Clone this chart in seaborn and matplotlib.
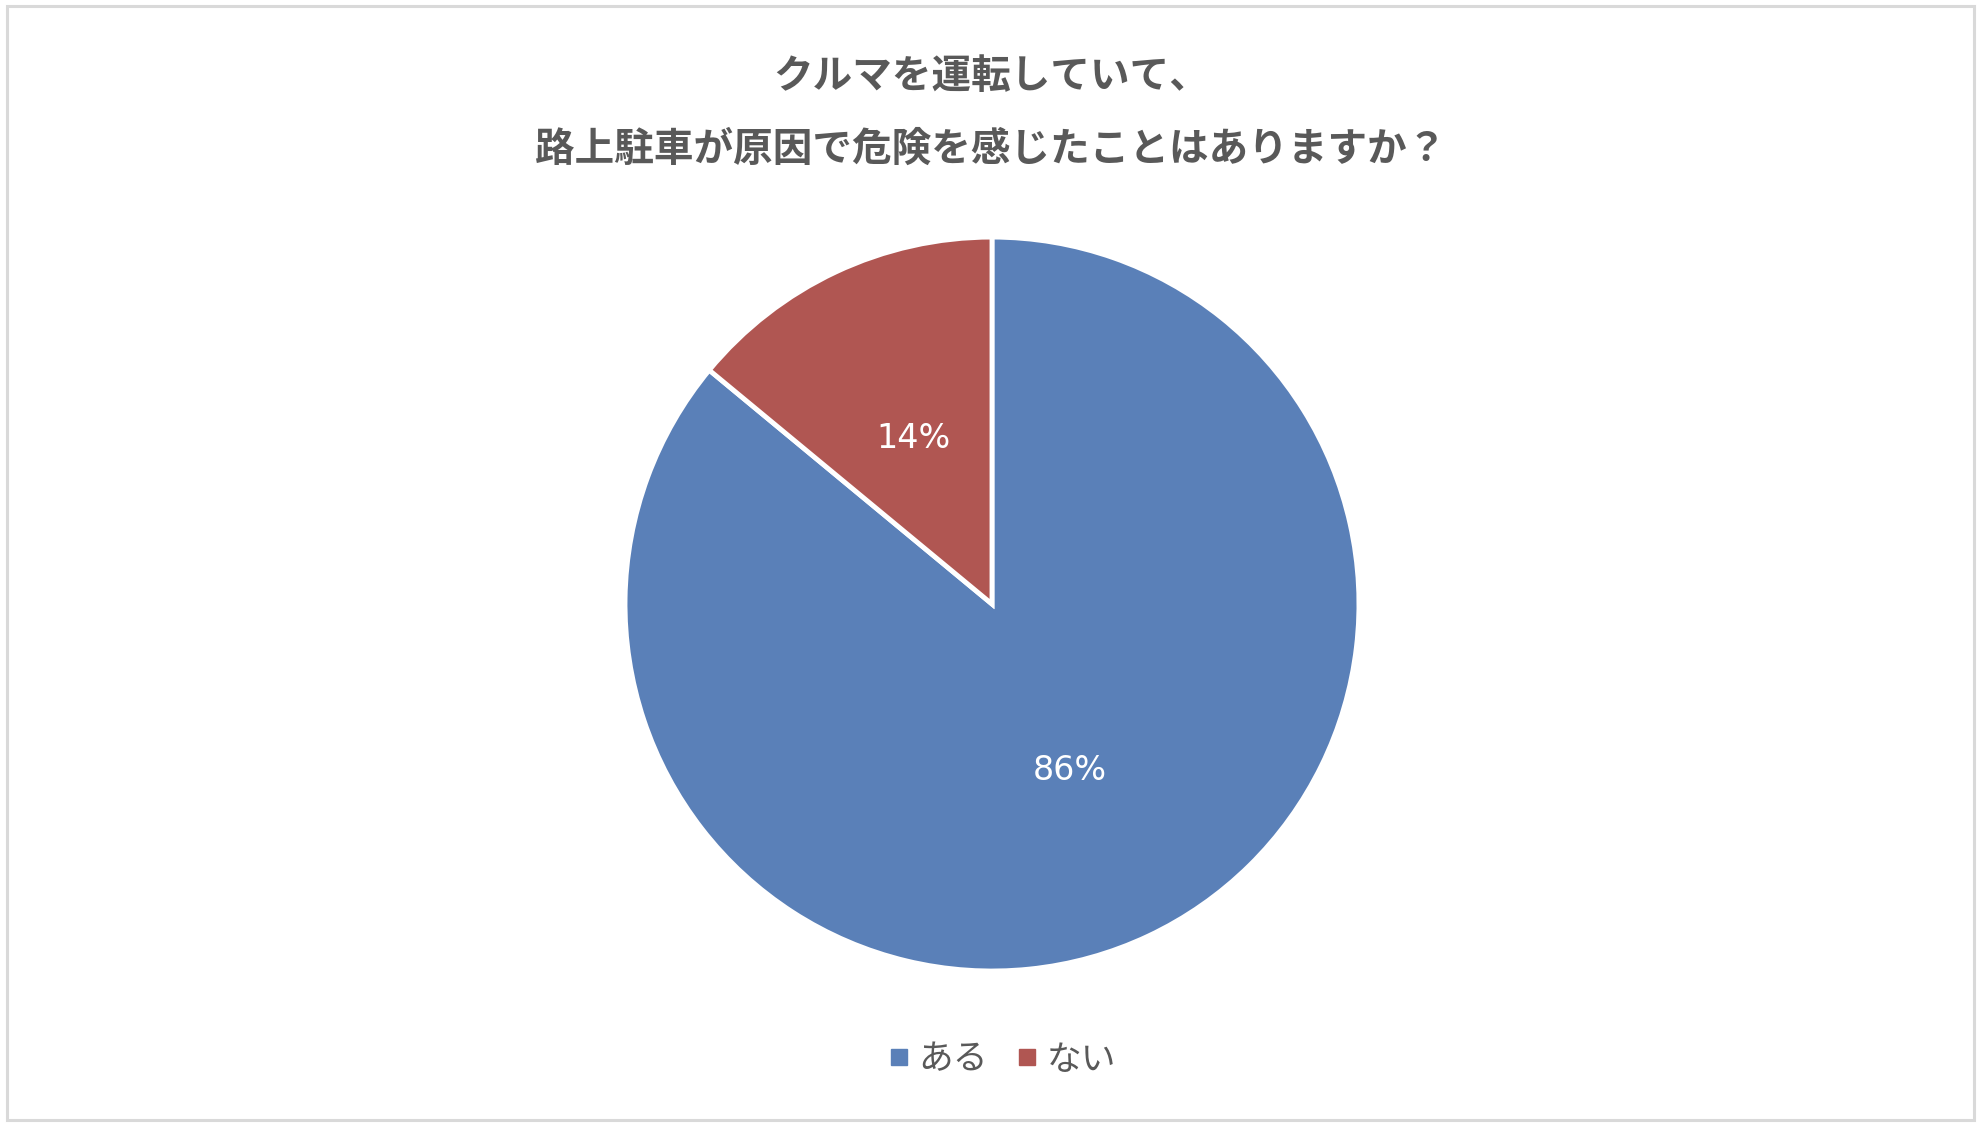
import matplotlib
matplotlib.use("Agg")
import matplotlib.pyplot as plt
import seaborn as sns
from matplotlib.patches import Rectangle
from matplotlib.lines import Line2D

# data
labels = ["ある", "ない"]
shares = [86, 14]
colors = ["#5A80B8", "#B05652"]
title_lines = ["クルマを運転していて、", "路上駐車が原因で危険を感じたことはありますか？"]

sns.set_theme(style="white")
plt.rcParams['font.family'] = ['Noto Sans CJK JP', 'DejaVu Sans']

fig = plt.figure(figsize=(19.82, 11.28), dpi=100)
fig.patch.set_facecolor("white")

# light grey chart frame
fig.add_artist(Rectangle((7 / 1982, 8 / 1128), 1 - 15 / 1982, 1 - 14 / 1128,
                         transform=fig.transFigure, fill=False,
                         edgecolor="#D9D9D9", linewidth=2.2))

ax = fig.add_axes([0.5005 - 0.3703 / 2, 0.4645 - 0.6507 / 2, 0.3703, 0.6507])
wedges, texts, autotexts = ax.pie(
    shares, colors=colors, startangle=90, counterclock=False,
    autopct="%1.0f%%", pctdistance=0.5,
    wedgeprops=dict(edgecolor="white", linewidth=3.5),
    textprops=dict(color="white", fontsize=24, family="DejaVu Sans"))
ax.set_xlim(-1.0, 1.0)
ax.set_ylim(-1.0, 1.0)
ax.set_aspect("equal")

fig.text(0.5, 1 - 76 / 1128, title_lines[0], ha="center", va="center",
         fontsize=28.5, fontweight="bold", color="#595959")
fig.text(0.5, 1 - 149 / 1128, title_lines[1], ha="center", va="center",
         fontsize=28.5, fontweight="bold", color="#595959")

handles = [Line2D([], [], linestyle="none", marker="s", markersize=12,
                  markerfacecolor=c, markeredgecolor=c) for c in colors]
fig.legend(handles, labels, loc="center", bbox_to_anchor=(0.506, 1 - 1060 / 1128),
           ncol=2, frameon=False, fontsize=25, labelcolor="#595959",
           handlelength=0.5, handletextpad=0.3, columnspacing=0.9)

fig.savefig("out.png", dpi=100, facecolor="white")
